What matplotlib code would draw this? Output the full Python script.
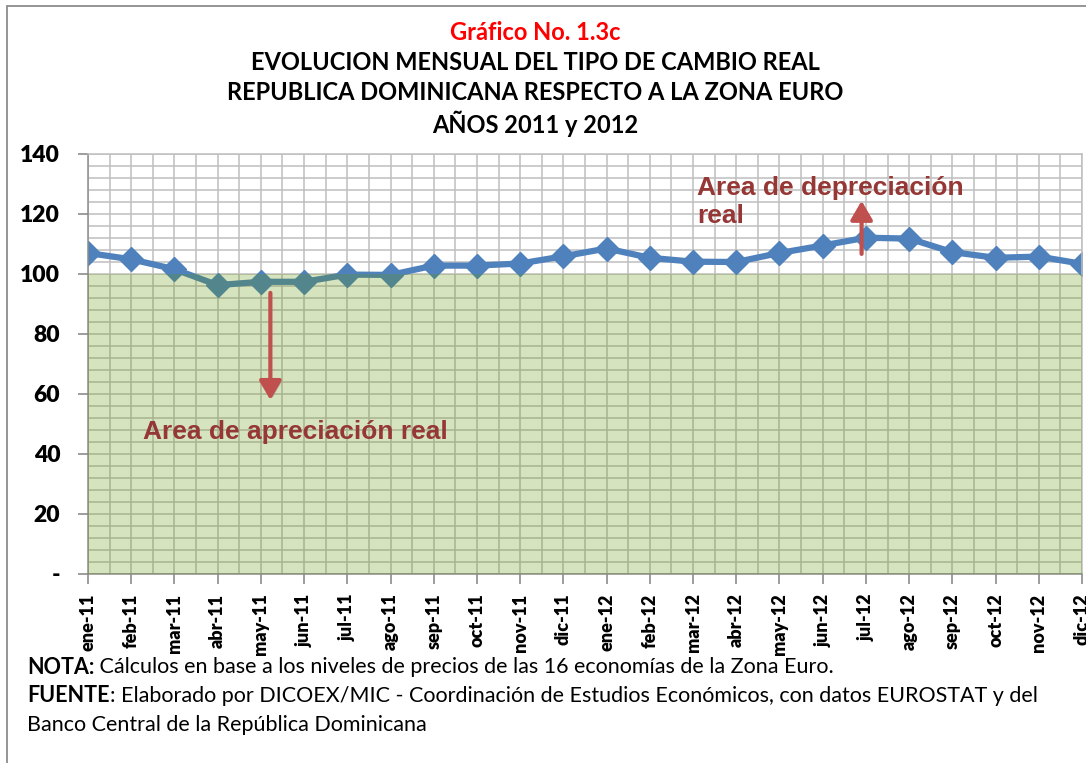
import matplotlib
matplotlib.use("Agg")
import matplotlib.pyplot as plt
import matplotlib.patheffects as pe
from matplotlib.ticker import MultipleLocator, FixedLocator
from matplotlib.patches import Rectangle

# Datos: indice del tipo de cambio real RD / Zona Euro
meses = ["ene-11", "feb-11", "mar-11", "abr-11", "may-11", "jun-11",
         "jul-11", "ago-11", "sep-11", "oct-11", "nov-11", "dic-11",
         "ene-12", "feb-12", "mar-12", "abr-12", "may-12", "jun-12",
         "jul-12", "ago-12", "sep-12", "oct-12", "nov-12", "dic-12"]
tcr = [107.0, 104.9, 101.6, 96.3, 97.4, 97.4,
       99.8, 99.7, 102.8, 102.8, 103.5, 105.9,
       108.5, 105.4, 104.1, 104.0, 107.0, 109.5,
       112.1, 111.8, 107.3, 105.4, 105.8, 103.4]
y_ticks = [0, 20, 40, 60, 80, 100, 120, 140]
y_labels = ["-", "20", "40", "60", "80", "100", "120", "140"]
umbral = 100

titulo_rojo = "Gráfico No. 1.3c"
titulos = ["EVOLUCION MENSUAL DEL TIPO DE CAMBIO REAL",
           "REPUBLICA DOMINICANA RESPECTO A LA ZONA EURO",
           "AÑOS 2011 y 2012"]
notas = [("NOTA:", " Cálculos en base a los niveles de precios de las 16 economías de la Zona Euro."),
         ("FUENTE", ": Elaborado por DICOEX/MIC - Coordinación de Estudios Económicos, con datos EUROSTAT y del"),
         ("", "Banco Central de la República Dominicana")]

FONT = "Lato"
ROJO_TXT = "#953735"
ROJO_FLECHA = "#c0504d"

fig = plt.figure(figsize=(10.86, 7.63), dpi=100)
ax = fig.add_axes([88 / 1086, 1 - 574 / 763, (1082 - 88) / 1086, (574 - 154) / 763])

x = list(range(len(meses)))
ax.plot(x, tcr, color="#4f81bd", lw=4.5, marker="D", markersize=12,
        markeredgecolor="#4f81bd", zorder=2)

# zona de apreciacion (semi transparente, tiñe la linea y la rejilla)
ax.axhspan(0, umbral, color=(95 / 255, 147 / 255, 0), alpha=0.25, lw=0, zorder=3)

ax.set_xlim(0, len(meses) - 1)
ax.set_ylim(0, 140)
ax.xaxis.set_major_locator(FixedLocator(x))
ax.xaxis.set_minor_locator(MultipleLocator(0.5))
ax.yaxis.set_major_locator(FixedLocator(y_ticks))
ax.yaxis.set_minor_locator(MultipleLocator(4))
ax.set_xticklabels(meses, rotation=90, fontsize=13, fontweight="heavy", family=FONT)
ax.set_yticklabels(y_labels, fontsize=16.5, fontweight="heavy", family=FONT)
ax.set_axisbelow(True)
ax.grid(True, which="both", color="#bfbfbf", lw=1.1)
ax.tick_params(axis="both", which="major", length=7, width=1.2, color="#8c8c8c")
ax.tick_params(axis="both", which="minor", length=0)
ax.tick_params(axis="x", pad=7)
ax.tick_params(axis="y", pad=13)
for s in ax.spines.values():
    s.set_color("#bfbfbf")
    s.set_linewidth(1.1)
ax.spines["bottom"].set_color("#8c8c8c")
ax.spines["left"].set_color("#8c8c8c")

# flechas con sombra suave
flecha = dict(arrowstyle="-|>,head_length=0.6,head_width=0.35", color=ROJO_FLECHA,
              lw=3, mutation_scale=19, shrinkA=0, shrinkB=0)
sombra = [pe.SimplePatchShadow(offset=(1.5, -1.5), shadow_rgbFace="#999999", alpha=0.5),
          pe.Normal()]
a1 = ax.annotate("", xy=(4.22, 58), xytext=(4.22, 93.7), arrowprops=flecha, zorder=4)
a2 = ax.annotate("", xy=(17.9, 124.4), xytext=(17.9, 106.7), arrowprops=flecha, zorder=4)
a1.arrow_patch.set_path_effects(sombra)
a2.arrow_patch.set_path_effects(sombra)

ax.text(1.27, 47.3, "Area de apreciación real", color=ROJO_TXT, fontsize=19,
        fontweight="bold", family="Liberation Sans", va="center", ha="left", zorder=5)
ax.text(14.1, 124.0, "Area de depreciación\nreal", color=ROJO_TXT, fontsize=19,
        fontweight="bold", family="Liberation Sans", va="center", ha="left",
        linespacing=1.2, zorder=5)

# titulos
fig.text(535 / 1086, 1 - 33 / 763, titulo_rojo, color="red", fontsize=17,
         fontweight="bold", family=FONT, ha="center", va="center")
for i, t in enumerate(titulos):
    fig.text(535 / 1086, 1 - (62 + 31 * i) / 763, t, color="black", fontsize=17,
             fontweight="bold", family=FONT, ha="center", va="center")

# notas al pie
renderer = fig.canvas.get_renderer()
for i, (neg, resto) in enumerate(notas):
    yy = 1 - (667 + 29 * i) / 763
    x0 = 27 / 1086
    if neg:
        tb = fig.text(x0, yy, neg, fontsize=15.5, fontweight="bold", family=FONT,
                      va="center", ha="left")
        bb = tb.get_window_extent(renderer)
        x0 = bb.x1 / fig.bbox.width
    fig.text(x0, yy, resto, fontsize=15.5, family=FONT, va="center", ha="left")

# borde del grafico
fig.patches.append(Rectangle((7 / 1086, -0.05), 1.2, 1 - 6 / 763 + 0.05,
                             transform=fig.transFigure, fill=False,
                             edgecolor="#8c8c8c", lw=1.3))

fig.savefig("out.png", dpi=100)
